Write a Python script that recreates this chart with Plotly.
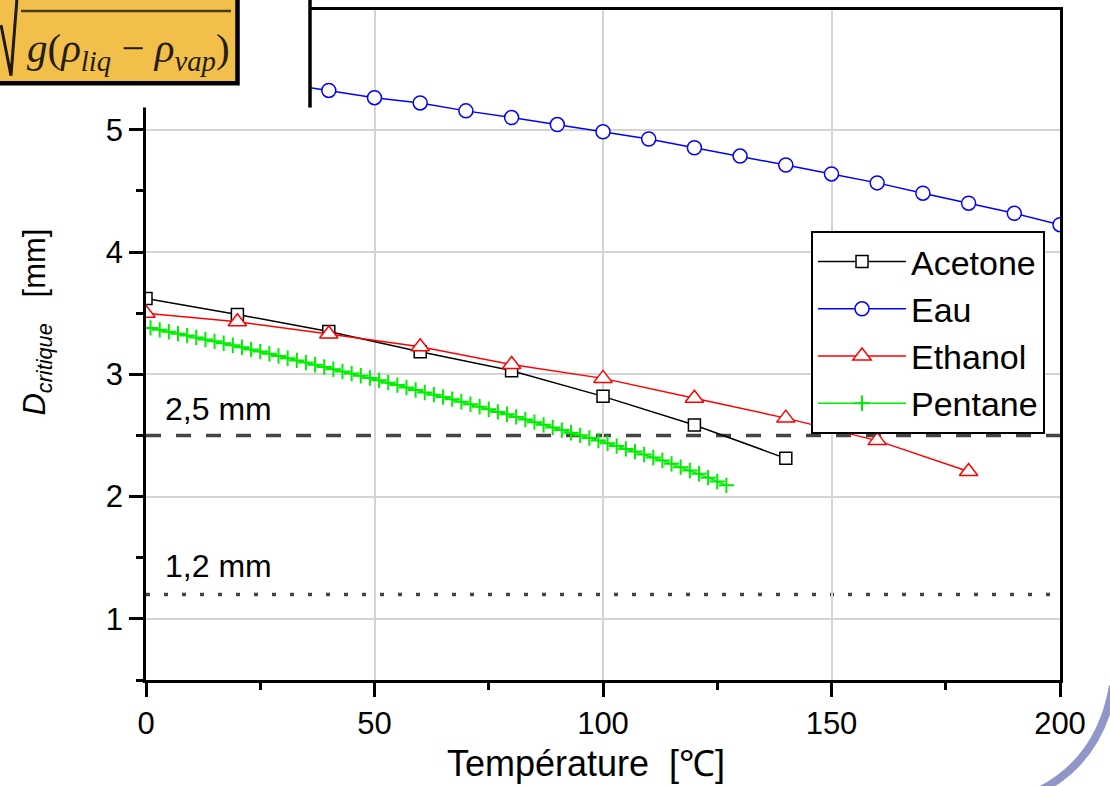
import plotly.graph_objects as go

# ---- data: critical diameter [mm] vs temperature [°C] ----
temp_acetone = [0, 20, 40, 60, 80, 100, 120, 140]
d_acetone = [3.62, 3.49, 3.35, 3.185, 3.03, 2.82, 2.585, 2.313]

temp_eau = [30, 40, 50, 60, 70, 80, 90, 100, 110, 120, 130, 140, 150, 160, 170, 180, 190, 200]
d_eau = [5.378, 5.322, 5.263, 5.22, 5.155, 5.10, 5.043, 4.984, 4.925, 4.853,
         4.785, 4.712, 4.639, 4.566, 4.482, 4.40, 4.317, 4.224]

temp_ethanol = [0, 20, 40, 60, 80, 100, 120, 140, 160, 180]
d_ethanol = [3.50, 3.43, 3.33, 3.225, 3.08, 2.967, 2.805, 2.642, 2.458, 2.205]

temp_pentane = list(range(1, 128, 2))
d_pentane = [3.380, 3.364, 3.348, 3.333, 3.317, 3.301, 3.285, 3.270, 3.254, 3.238,
             3.222, 3.204, 3.186, 3.168, 3.150, 3.132, 3.114, 3.096, 3.078, 3.060,
             3.042, 3.024, 3.006, 2.988, 2.970, 2.952, 2.932, 2.912, 2.892, 2.872,
             2.852, 2.834, 2.815, 2.797, 2.776, 2.755, 2.735, 2.714, 2.693, 2.673,
             2.652, 2.630, 2.609, 2.587, 2.566, 2.544, 2.522, 2.501, 2.479, 2.458,
             2.436, 2.413, 2.390, 2.368, 2.345, 2.320, 2.295, 2.268, 2.241, 2.214,
             2.187, 2.155, 2.124, 2.092]

limit_dashed = 2.5
limit_dotted = 1.2

x_ticks = [0, 50, 100, 150, 200]
y_ticks = [1, 2, 3, 4, 5]

# ---- page geometry (pixels) ----
W_PAGE, H_PAGE = 1110, 786
M_L, M_R, M_T, M_B = 146, 50, 7, 106
PW = W_PAGE - M_L - M_R
PH = H_PAGE - M_T - M_B


def px(x):
    return (x - M_L) / PW


def py(y):
    return (H_PAGE - M_B - y) / PH


FONT = "Liberation Sans, Arial, sans-serif"

fig = go.Figure()

fig.add_trace(go.Scatter(
    x=temp_acetone, y=d_acetone, name="Acetone", mode="lines+markers",
    line=dict(color="black", width=1.5),
    marker=dict(symbol="square", size=12, color="white", line=dict(color="black", width=1.5)),
))
fig.add_trace(go.Scatter(
    x=temp_eau, y=d_eau, name="Eau", mode="lines+markers",
    line=dict(color="#0000ff", width=1.5),
    marker=dict(symbol="circle", size=14, color="white", line=dict(color="#0000ff", width=1.5)),
))
fig.add_trace(go.Scatter(
    x=temp_ethanol, y=d_ethanol, name="Ethanol", mode="lines+markers",
    line=dict(color="#ff0000", width=1.5),
    marker=dict(symbol="triangle-up", size=16, color="white", line=dict(color="#ff0000", width=1.5)),
))
fig.add_trace(go.Scatter(
    x=temp_pentane, y=d_pentane, name="Pentane", mode="lines+markers",
    line=dict(color="#00ee00", width=1.5),
    marker=dict(symbol="cross-thin", size=11, color="#00ee00", line=dict(color="#00ee00", width=2)),
))

shapes = []
# horizontal limit lines
shapes.append(dict(type="line", xref="paper", yref="y", x0=0, x1=1, y0=limit_dashed, y1=limit_dashed,
                   line=dict(color="#454545", width=3.5, dash="15px,15px"), layer="between"))
shapes.append(dict(type="line", xref="paper", yref="y", x0=0, x1=1, y0=limit_dotted, y1=limit_dotted,
                   line=dict(color="#454545", width=3.5, dash="4px,14px"), layer="between"))

# white panel with the formula in the upper left corner
shapes.append(dict(type="rect", xref="paper", yref="paper", x0=px(-10), x1=px(310), y0=py(105), y1=py(-10),
                   fillcolor="white", line=dict(width=0), layer="above"))
shapes.append(dict(type="line", xref="paper", yref="paper", x0=px(310), x1=px(310), y0=py(105), y1=py(-5),
                   line=dict(color="black", width=3.5), layer="above"))
shapes.append(dict(type="rect", xref="paper", yref="paper", x0=px(-10), x1=px(237.5), y0=py(80.5), y1=py(-10),
                   fillcolor="#f2c04a", line=dict(color="black", width=4.5), layer="above"))
shapes.append(dict(type="path", xref="paper", yref="paper",
                   path=f"M {px(1)},{py(22)} L {px(11)},{py(73)} L {px(17)},{py(-5)}",
                   line=dict(color="#1e1a10", width=3), layer="above"))
shapes.append(dict(type="line", xref="paper", yref="paper", x0=px(21), x1=px(231), y0=py(8), y1=py(8),
                   line=dict(color="#4a3a18", width=2.5), layer="above"))

# decorative arc in the lower right corner
shapes.append(dict(type="path", xref="paper", yref="paper",
                   path=f"M {px(1113)},{py(686)} Q {px(1100)},{py(762)} {px(1036)},{py(793)}",
                   line=dict(color="#9196c8", width=8), layer="above"))

annotations = []
for v, shift in ((limit_dashed, 26), (limit_dotted, 28)):
    annotations.append(dict(
        text=f"{v:.1f}".replace(".", ",") + " mm", xref="paper", yref="y",
        x=px(163), y=v, xanchor="left", yanchor="middle", yshift=shift, showarrow=False,
        font=dict(family=FONT, size=32, color="black"),
    ))
annotations.append(dict(
    text="<i>g</i>(<i>ρ</i><sub><i>liq</i></sub> − <i>ρ</i><sub><i>vap</i></sub>)",
    xref="paper", yref="paper", x=px(25), y=py(48), xanchor="left", yanchor="middle",
    showarrow=False, font=dict(family="Liberation Serif, Times New Roman, serif", size=41, color="#241d10"),
))
# axis titles
annotations.append(dict(
    text="<i>D</i><sub><i>critique</i></sub>\u00a0\u00a0\u00a0[mm]",
    xref="paper", yref="paper", x=px(37), y=py(321), xanchor="center", yanchor="middle",
    textangle=-90, showarrow=False, font=dict(family=FONT, size=31, color="black"),
))
annotations.append(dict(
    text="Température\u00a0\u00a0[℃]",
    xref="paper", yref="paper", x=px(586), y=py(764), xanchor="center", yanchor="middle",
    showarrow=False, font=dict(family=FONT, size=36, color="black"),
))

axis_common = dict(
    showline=True, linecolor="black", linewidth=2.5, mirror=True,
    ticks="outside", ticklen=14, tickwidth=2.5, tickcolor="black",
    showgrid=True, gridcolor="#d4d4d4", gridwidth=1.5, zeroline=False,
    tickfont=dict(family=FONT, size=31, color="black"),
)

fig.update_layout(
    width=W_PAGE, height=H_PAGE, autosize=False,
    margin=dict(l=M_L, r=M_R, t=M_T, b=M_B),
    paper_bgcolor="white", plot_bgcolor="white",
    font=dict(family=FONT, color="black"),
    xaxis=dict(
        range=[0, 200], tickvals=x_ticks,
        minor=dict(ticks="outside", ticklen=7, tickwidth=2.5, tickcolor="black", dtick=25, showgrid=False),
        **axis_common,
    ),
    yaxis=dict(
        range=[0.5, 5.98], tickvals=y_ticks,
        minor=dict(ticks="outside", ticklen=7, tickwidth=2.5, tickcolor="black", dtick=0.5, showgrid=False),
        **axis_common,
    ),
    legend=dict(
        x=px(811), y=py(229), xanchor="left", yanchor="top",
        bgcolor="white", bordercolor="black", borderwidth=2,
        font=dict(family=FONT, size=34, color="black"),
        itemwidth=88, tracegroupgap=0,
    ),
    shapes=shapes,
    annotations=annotations,
    showlegend=True,
)

fig.write_html("out.html")
